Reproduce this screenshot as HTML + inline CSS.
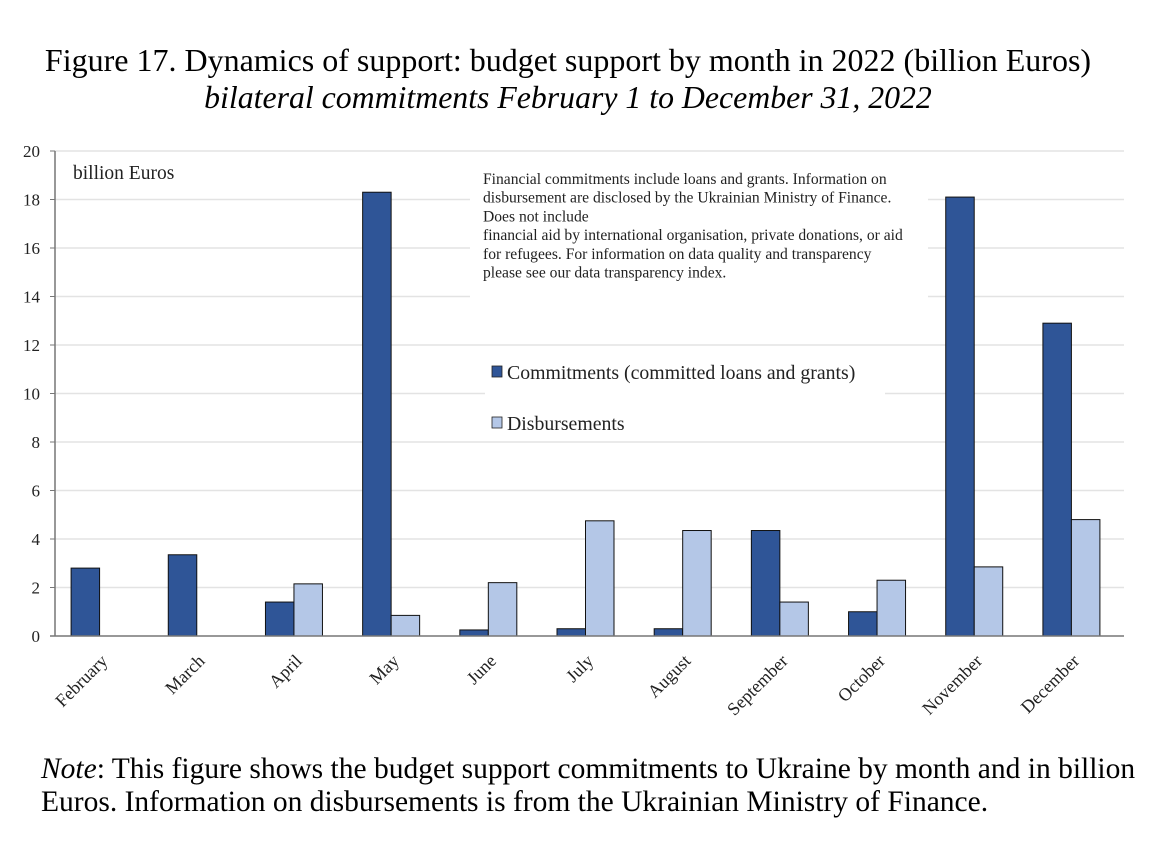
<!DOCTYPE html>
<html><head><meta charset="utf-8"><style>
body{margin:0;background:#fff;width:1172px;height:852px;overflow:hidden;font-family:"Liberation Serif",serif;}
.t{position:absolute;left:0;width:1136px;text-align:center;color:#000;white-space:nowrap;}
</style></head><body>
<div class="t" style="top:42px;font-size:32px;">Figure 17. Dynamics of support: budget support by month in 2022 (billion Euros)</div>
<div class="t" style="top:80px;font-size:31.8px;font-style:italic;">bilateral commitments February 1 to December 31, 2022</div>
<svg id="chart" width="1172" height="852" style="position:absolute;left:0;top:0" font-family="Liberation Serif, serif"></svg>
<div style="position:absolute;left:41px;top:753px;font-size:29.5px;line-height:33px;color:#000;white-space:nowrap;"><i>Note</i>: This figure shows the budget support commitments to Ukraine by month and in billion<br>Euros. Information on disbursements is from the Ukrainian Ministry of Finance.</div>
<script>
const months=["February","March","April","May","June","July","August","September","October","November","December"];
const commitments=[2.8,3.35,1.4,18.3,0.25,0.3,0.3,4.35,1.0,18.1,12.9];
const disbursements=[0,0,2.15,0.85,2.2,4.75,4.35,1.4,2.3,2.85,4.8];
const yTicks=[0,2,4,6,8,10,12,14,16,18,20];
const NS="http://www.w3.org/2000/svg";
const svg=document.getElementById('chart');
const x0=55,x1=1124,y0=636,y20=151;
const band=(x1-x0)/months.length;
const y=v=>y0-(v/20)*(y0-y20);
const xc=i=>x0+band*i+band/2;
function mk(t,a){const e=document.createElementNS(NS,t);for(const k in a)e.setAttribute(k,a[k]);svg.appendChild(e);return e;}
yTicks.forEach(v=>{
  if(v>0){const g=mk('line',{x1:x0,x2:x1,y1:y(v),y2:y(v),stroke:'#e3e3e3','stroke-width':1.5});
  
  }
  const tk=mk('line',{x1:x0-5,x2:x0,y1:y(v),y2:y(v),stroke:'#777'});
  
  
  const t=mk('text',{x:x0-15,y:y(v)+6,'text-anchor':'end','font-size':17,fill:'#222'});
  t.textContent=v;
  
  
});
const ab=mk('rect',{x:470,y:163,width:458,height:170,fill:'#fff'});


const lb=mk('rect',{x:485,y:355,width:400,height:85,fill:'#fff'});


const bw=28.5;
months.forEach((m,i)=>{
  const c=xc(i)-4;
  const b1=mk('rect',{x:c-bw,y:y(commitments[i]),width:bw,height:y0-y(commitments[i]),fill:'#2f5597',stroke:'#111','stroke-width':1});
  
  
  if(disbursements[i]>0){
  const b2=mk('rect',{x:c,y:y(disbursements[i]),width:bw,height:y0-y(disbursements[i]),fill:'#b4c7e7',stroke:'#111','stroke-width':1});
  
  }
  const lx=xc(i)+5,ly=y0+26;
  const t=mk('text',{x:lx,y:ly,'text-anchor':'end','font-size':18,fill:'#222',transform:`rotate(-45 ${lx} ${ly})`});
  t.textContent=m;
  
  
});
const ya=mk('line',{x1:x0,x2:x0,y1:y20,y2:y0,stroke:'#777','stroke-width':1.5});


const xa=mk('line',{x1:x0-5,x2:x1,y1:y0,y2:y0,stroke:'#777','stroke-width':1.5});


const ut=mk('text',{x:73,y:179,'font-size':19.5,fill:'#222'});
ut.textContent='billion Euros';


const notes=["Financial commitments include loans and grants. Information on","disbursement are disclosed by the Ukrainian Ministry of Finance.","Does not include","financial aid by international organisation, private donations, or aid","for refugees. For information on data quality and transparency","please see our data transparency index."];
notes.forEach((s,k)=>{const t=mk('text',{x:483,y:184+k*18.7,'font-size':15.6,fill:'#222'});t.textContent=s;

});
const l1=mk('rect',{x:492,y:366,width:10,height:11,fill:'#2f5597',stroke:'#222','stroke-width':0.8});


const l1t=mk('text',{x:507,y:379,'font-size':19.8,fill:'#222'});l1t.textContent='Commitments (committed loans and grants)';


const l2=mk('rect',{x:492,y:417,width:10,height:11,fill:'#b4c7e7',stroke:'#222','stroke-width':0.8});


const l2t=mk('text',{x:507,y:430,'font-size':19.8,fill:'#222'});l2t.textContent='Disbursements';


</script>
</body></html>
